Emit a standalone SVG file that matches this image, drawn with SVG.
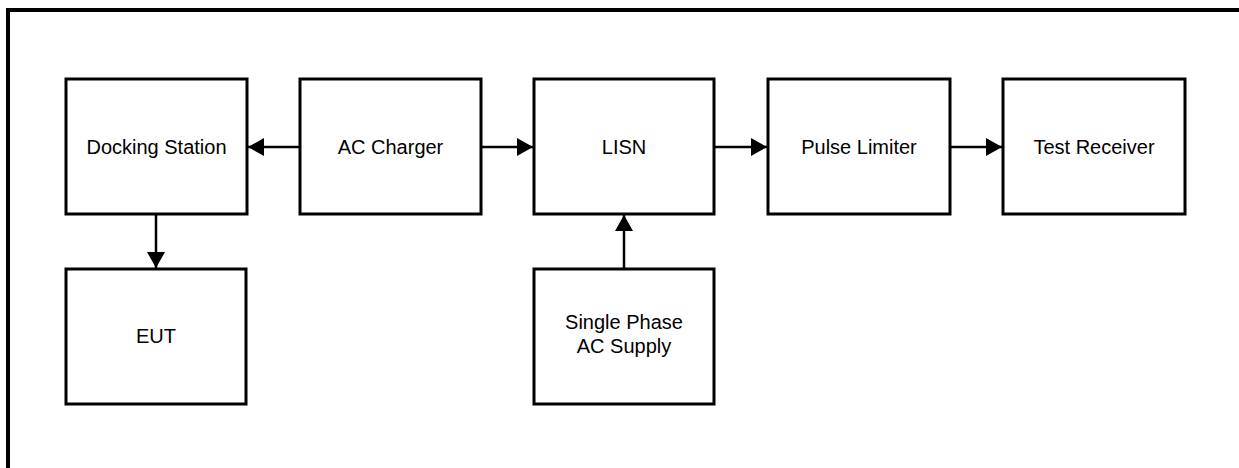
<svg xmlns="http://www.w3.org/2000/svg" width="1239" height="468" viewBox="0 0 1239 468">
<style>
.box{fill:#fff;stroke:#000;stroke-width:3}
.lbl{font-family:"Liberation Sans",Arial,sans-serif;font-size:20px;fill:#000;text-anchor:middle}
.conn{stroke:#000;stroke-width:2.5;fill:none}
</style>
<defs>
<marker id="arr" viewBox="0 0 16 18" refX="16" refY="9" markerWidth="16" markerHeight="18" markerUnits="userSpaceOnUse" orient="auto">
<path d="M0,0 L16,9 L0,18 Z" fill="#000"/>
</marker>
</defs>
<rect width="1239" height="468" fill="#fff"/>
<rect x="8" y="10" width="1300" height="500" fill="none" stroke="#000" stroke-width="4"/>
<g id="docking"><rect class="box" x="66" y="79" width="181" height="135"/><text class="lbl" x="156.5" y="154">Docking Station</text></g>
<g id="charger"><rect class="box" x="300" y="79" width="181" height="135"/><text class="lbl" x="390.5" y="154">AC Charger</text></g>
<g id="lisn"><rect class="box" x="534" y="79" width="180" height="135"/><text class="lbl" x="624" y="154">LISN</text></g>
<g id="limiter"><rect class="box" x="768" y="79" width="182" height="135"/><text class="lbl" x="859" y="154">Pulse Limiter</text></g>
<g id="receiver"><rect class="box" x="1003" y="79" width="182" height="135"/><text class="lbl" x="1094" y="154">Test Receiver</text></g>
<g id="eut"><rect class="box" x="66" y="269" width="180" height="135"/><text class="lbl" x="156" y="343">EUT</text></g>
<g id="supply"><rect class="box" x="534" y="269" width="180" height="135"/><text class="lbl" x="624" y="329">Single Phase</text><text class="lbl" x="624" y="353">AC Supply</text></g>
<g id="connectors">
<line class="conn" x1="300" y1="147" x2="248" y2="147" marker-end="url(#arr)"/>
<line class="conn" x1="481" y1="147" x2="533" y2="147" marker-end="url(#arr)"/>
<line class="conn" x1="714" y1="147" x2="767" y2="147" marker-end="url(#arr)"/>
<line class="conn" x1="950" y1="147" x2="1002" y2="147" marker-end="url(#arr)"/>
<line class="conn" x1="156" y1="214" x2="156" y2="268" marker-end="url(#arr)"/>
<line class="conn" x1="624" y1="269" x2="624" y2="215" marker-end="url(#arr)"/>
</g>
</svg>
